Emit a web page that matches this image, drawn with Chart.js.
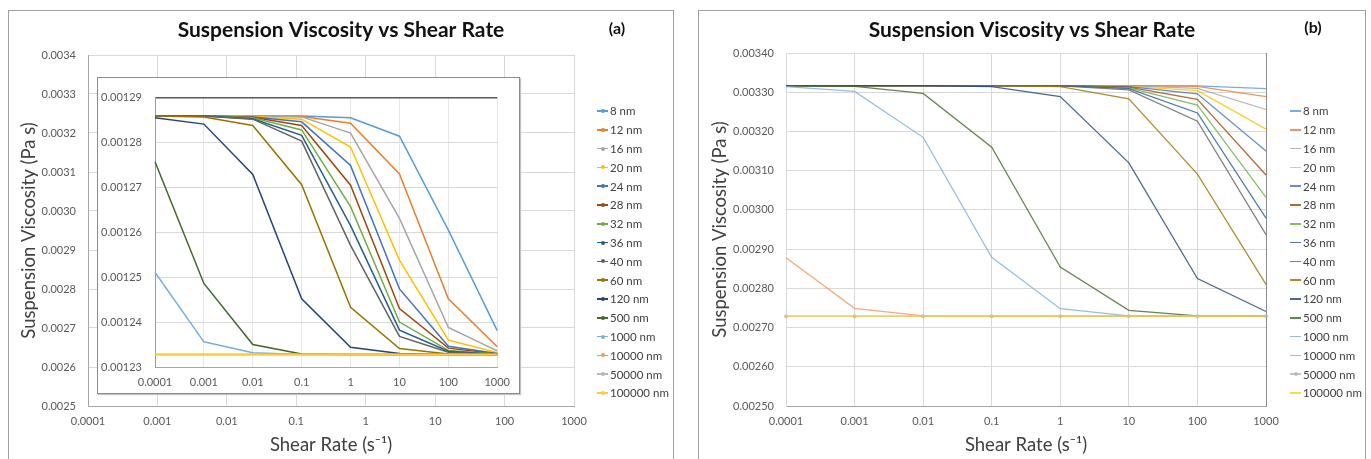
<!DOCTYPE html>
<html>
<head>
<meta charset="utf-8">
<title>Suspension Viscosity vs Shear Rate</title>
<script src="https://cdn.jsdelivr.net/npm/chart.js@4.4.0/dist/chart.umd.min.js"></script>
<style>
  body { margin: 0; background: #fff; width: 1371px; height: 459px; overflow: hidden; position: relative; font-family: Lato, sans-serif; }
  .panel { position: absolute; top: 10px; height: 470px; border: 1px solid #a0a0a0; box-sizing: border-box; }
  .holder { position: absolute; }
  .tag { position: absolute; width: 40px; text-align: center; font: bold 16px Lato, sans-serif; line-height: 20px; color: #111; }
  .inset { position: absolute; left: 97px; top: 77px; width: 423px; height: 317px; box-sizing: border-box; background: #fff; border: 1px solid #8c8c8c; box-shadow: 1px 1px 1px #c4c4c4; }
  .legend { position: absolute; font-size: 11.5px; color: #404040; }
  .legend .row { height: 18.8px; display: flex; align-items: center; white-space: nowrap; }
  .legend .mark { position: relative; width: 11px; height: 8px; margin-right: 2px; flex: none; }
  .legend .ln { position: absolute; left: 0; right: 0; top: 3.25px; height: 1.5px; }
  .legend .dot { position: absolute; left: 3.5px; top: 2px; width: 4px; height: 4px; border-radius: 50%; }
</style>
</head>
<body>
<div class="panel" style="left:8px;width:666px"></div>
<div class="panel" style="left:698px;width:668px"></div>

<div class="holder" style="left:9px;top:11px;width:664px;height:448px"><canvas id="outerA"></canvas></div>
<div class="inset"></div>
<div class="holder" style="left:98px;top:78px;width:421px;height:315px"><canvas id="insetA"></canvas></div>
<div class="tag" style="left:597px;top:18px">(a)</div>
<div class="legend" id="legendA" style="left:597px;top:101.6px"></div>

<div class="holder" style="left:699px;top:11px;width:666px;height:448px"><canvas id="chartB"></canvas></div>
<div class="tag" style="left:1293px;top:17px">(b)</div>
<div class="legend" id="legendB" style="left:1290px;top:101.6px"></div>

<script>
// shear rate categories (s^-1), shared by both panels
const shearRates = ['0.0001', '0.001', '0.01', '0.1', '1', '10', '100', '1000'];

const particleSizes = ['8 nm', '12 nm', '16 nm', '20 nm', '24 nm', '28 nm', '32 nm', '36 nm',
  '40 nm', '60 nm', '120 nm', '500 nm', '1000 nm', '10000 nm', '50000 nm', '100000 nm'];

const lineColors = ['#5B9BD5', '#ED7D31', '#A5A5A5', '#FFC000', '#4472C4', '#9E480E', '#70AD47', '#255E91',
  '#636363', '#997300', '#264478', '#43682B', '#7CAFDD', '#F1975A', '#B7B7B7', '#FFCD33'];

// panel (a), inset values in Pa s, one row per particle size
const viscosityA = [
  [0.0012859, 0.0012859, 0.0012859, 0.0012859, 0.0012855, 0.0012814, 0.0012605, 0.0012381],
  [0.0012859, 0.0012859, 0.0012859, 0.0012858, 0.0012843, 0.0012730, 0.0012452, 0.0012345],
  [0.0012859, 0.0012859, 0.0012859, 0.0012857, 0.0012821, 0.0012631, 0.0012388, 0.0012336],
  [0.0012859, 0.0012859, 0.0012858, 0.0012852, 0.0012790, 0.0012538, 0.0012360, 0.0012332],
  [0.0012859, 0.0012859, 0.0012857, 0.0012846, 0.0012749, 0.0012474, 0.0012346, 0.0012330],
  [0.0012859, 0.0012859, 0.0012856, 0.0012838, 0.0012705, 0.0012430, 0.0012342, 0.0012329],
  [0.0012859, 0.0012859, 0.0012855, 0.0012828, 0.0012657, 0.0012400, 0.0012337, 0.0012329],
  [0.0012859, 0.0012859, 0.0012853, 0.0012816, 0.0012615, 0.0012382, 0.0012335, 0.0012328],
  [0.0012859, 0.0012859, 0.0012852, 0.0012803, 0.0012571, 0.0012368, 0.0012333, 0.0012328],
  [0.0012859, 0.0012857, 0.0012838, 0.0012706, 0.0012433, 0.0012341, 0.0012329, 0.0012328],
  [0.0012855, 0.0012841, 0.0012729, 0.0012452, 0.0012344, 0.0012330, 0.0012328, 0.0012328],
  [0.0012757, 0.0012486, 0.0012350, 0.0012329, 0.0012328, 0.0012328, 0.0012328, 0.0012328],
  [0.0012511, 0.0012356, 0.0012332, 0.0012328, 0.0012328, 0.0012328, 0.0012328, 0.0012328],
  [0.0012328, 0.0012328, 0.0012328, 0.0012328, 0.0012328, 0.0012328, 0.0012328, 0.0012328],
  [0.0012328, 0.0012328, 0.0012328, 0.0012328, 0.0012328, 0.0012328, 0.0012328, 0.0012328],
  [0.0012328, 0.0012328, 0.0012328, 0.0012328, 0.0012328, 0.0012328, 0.0012328, 0.0012328]
];

// panel (b) values in Pa s
const viscosityB = [
  [0.003317, 0.003317, 0.003317, 0.003317, 0.003317, 0.003317, 0.003316, 0.003309],
  [0.003317, 0.003317, 0.003317, 0.003317, 0.003317, 0.003317, 0.003315, 0.003289],
  [0.003317, 0.003317, 0.003317, 0.003317, 0.003317, 0.003316, 0.003310, 0.003256],
  [0.003317, 0.003317, 0.003317, 0.003317, 0.003317, 0.003315, 0.003304, 0.003206],
  [0.003317, 0.003317, 0.003317, 0.003317, 0.003317, 0.003314, 0.003296, 0.003150],
  [0.003317, 0.003317, 0.003317, 0.003317, 0.003317, 0.003313, 0.003282, 0.003089],
  [0.003317, 0.003317, 0.003317, 0.003317, 0.003317, 0.003311, 0.003267, 0.003032],
  [0.003317, 0.003317, 0.003317, 0.003317, 0.003317, 0.003309, 0.003247, 0.002979],
  [0.003317, 0.003317, 0.003317, 0.003317, 0.003316, 0.003306, 0.003226, 0.002937],
  [0.003317, 0.003317, 0.003317, 0.003317, 0.003314, 0.003283, 0.003091, 0.002810],
  [0.003317, 0.003317, 0.003317, 0.003314, 0.003289, 0.003120, 0.002825, 0.002741],
  [0.003317, 0.003315, 0.003297, 0.003160, 0.002854, 0.002744, 0.002730, 0.002729],
  [0.003314, 0.003302, 0.003185, 0.002879, 0.002748, 0.002730, 0.002729, 0.002729],
  [0.002878, 0.002749, 0.002730, 0.002729, 0.002729, 0.002729, 0.002729, 0.002729],
  [0.002729, 0.002729, 0.002729, 0.002729, 0.002729, 0.002729, 0.002729, 0.002729],
  [0.002729, 0.002729, 0.002729, 0.002729, 0.002729, 0.002729, 0.002729, 0.002729]
];

const chartTitle = 'Suspension Viscosity vs Shear Rate';
const xTitle = 'Shear Rate (s\u207B\u00B9)';
const yTitle = 'Suspension Viscosity (Pa s)';

const FONT = 'Lato';
const tickFont = { family: FONT, size: 11 };
const tickColor = '#595959';
const gridColor = '#d9d9d9';

function makeSets(values, width, markerRow, alpha) {
  return particleSizes.map((name, i) => ({
    label: name,
    data: values[i],
    borderColor: lineColors[i] + alpha,
    backgroundColor: lineColors[i] + alpha,
    borderWidth: width,
    pointRadius: i === markerRow ? 2 : 0,
    pointBorderWidth: 0,
    tension: 0,
    clip: 4,
    order: particleSizes.length - i   // later series drawn on top, like the original
  }));
}

function xScale(padBottom, height, showTitle, gridFn) {
  return {
    type: 'category',
    offset: false,
    grid: { color: gridFn || gridColor, drawTicks: false },
    border: { color: '#a6a6a6' },
    ticks: { font: tickFont, color: tickColor, padding: 9, maxRotation: 0, autoSkip: false },
    title: { display: showTitle, text: xTitle, color: '#404040', font: { family: FONT, size: 18.5 }, padding: { top: 0, bottom: padBottom } },
    afterFit: s => { s.height = height; }
  };
}

function yScale(min, max, step, digits, width, titlePad, extra) {
  return Object.assign({
    min: min,
    max: max,
    grid: { color: gridColor, drawTicks: false },
    border: { color: '#a6a6a6' },
    ticks: { stepSize: step, font: tickFont, color: tickColor, padding: 12, callback: v => v.toFixed(digits) },
    title: { display: titlePad !== null, text: yTitle, color: '#404040', font: { family: FONT, size: 18.5 }, padding: { top: titlePad || 0, bottom: 0 } },
    afterFit: s => { s.width = width; }
  }, extra || {});
}

// empty right-hand box that keeps the legend column free, so the title stays centred on the panel
function spacer(width) {
  return {
    position: 'right',
    grid: { display: false, drawTicks: false },
    border: { display: false },
    ticks: { display: false },
    afterFit: s => { s.width = width; }
  };
}

function baseOptions(padding, scales, title) {
  return {
    responsive: true,
    maintainAspectRatio: false,
    animation: false,
    events: [],
    layout: { padding: padding },
    plugins: {
      legend: { display: false },
      tooltip: { enabled: false },
      title: title ? {
        display: true, text: title.text, color: '#111',
        font: { family: FONT, size: 21, weight: 'bold' },
        padding: { top: title.top, bottom: title.bottom }
      } : { display: false }
    },
    scales: scales
  };
}

// legend built from the datasets of a chart
function buildLegend(chart, el, withDot) {
  chart.data.datasets.forEach((ds, i) => {
    const row = document.createElement('div');
    row.className = 'row';
    const mark = document.createElement('span');
    mark.className = 'mark';
    const ln = document.createElement('span');
    ln.className = 'ln';
    ln.style.background = ds.borderColor;
    mark.appendChild(ln);
    if (withDot(i)) {
      const dot = document.createElement('span');
      dot.className = 'dot';
      dot.style.background = ds.borderColor;
      mark.appendChild(dot);
    }
    const txt = document.createElement('span');
    txt.textContent = ds.label;
    row.appendChild(mark);
    row.appendChild(txt);
    el.appendChild(row);
  });
}

// panel (a): outer frame chart
new Chart(document.getElementById('outerA'), {
  type: 'line',
  data: { labels: shearRates, datasets: [] },
  options: baseOptions({ left: 0, right: 0, top: 0, bottom: 0 }, {
    x: xScale(3, 53, true),
    y: yScale(0.0025, 0.0034, 0.0001, 4, 79, 9),
    pad: spacer(99)
  }, { text: chartTitle, top: 6.5, bottom: 12.3 })
});

// panel (a): inset with the curves
const insetA = new Chart(document.getElementById('insetA'), {
  type: 'line',
  data: { labels: shearRates, datasets: makeSets(viscosityA, 1.5, -1, '') },
  options: baseOptions({ left: 0, right: 18, top: 10, bottom: 0 }, {
    x: xScale(0, 26, false, c => '#e6e6e6'),
    y: yScale(0.00123, 0.00129, 0.00001, 5, 57, null, {
      grid: { drawTicks: false, color: c => c.index === c.scale.ticks.length - 1 ? '#595959' : gridColor, lineWidth: c => c.index === c.scale.ticks.length - 1 ? 1.5 : 1 },
      border: { color: '#9a9a9a' }
    })
  })
});
insetA.options.scales.y.ticks.padding = 13;
insetA.update();
buildLegend(insetA, document.getElementById('legendA'), () => true);

// panel (b)
const chartB = new Chart(document.getElementById('chartB'), {
  type: 'line',
  data: { labels: shearRates, datasets: makeSets(viscosityB, 1.25, 14, 'D0') },
  options: baseOptions({ left: 0, right: 0, top: 0, bottom: 0 }, {
    x: xScale(3, 53, true, c => c.index === shearRates.length - 1 ? '#8c8c8c' : gridColor),
    y: yScale(0.0025, 0.0034, 0.0001, 5, 87, 10, { border: { color: gridColor } }),
    pad: spacer(99)
  }, { text: chartTitle, top: 6.5, bottom: 10.3 })
});
buildLegend(chartB, document.getElementById('legendB'), i => i === 14);
</script>
</body>
</html>
